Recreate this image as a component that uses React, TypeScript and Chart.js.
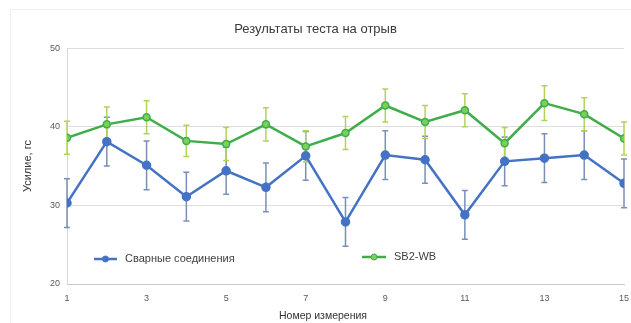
import React, { useEffect, useRef } from "react";
import { Chart, registerables } from "chart.js";

Chart.register(...registerables);

const chartTitle = "Результаты теста на отрыв";
const xAxisTitle = "Номер измерения";
const yAxisTitle = "Усилие, гс";

const measurements = [1, 2, 3, 4, 5, 6, 7, 8, 9, 10, 11, 12, 13, 14, 15];

const weldLabel = "Сварные соединения";
const weldValues = [30.3, 38.1, 35.1, 31.1, 34.4, 32.3, 36.3, 27.9, 36.4, 35.8, 28.8, 35.6, 36.0, 36.4, 32.8];
const weldErrors = [3.1, 3.1, 3.1, 3.1, 3.0, 3.1, 3.1, 3.1, 3.1, 3.0, 3.1, 3.1, 3.1, 3.1, 3.1];

const sb2Label = "SB2-WB";
const sb2Values = [38.6, 40.3, 41.2, 38.2, 37.8, 40.3, 37.5, 39.2, 42.7, 40.6, 42.1, 37.9, 43.0, 41.6, 38.5];
const sb2Errors = [2.1, 2.2, 2.1, 2.0, 2.1, 2.1, 2.0, 2.1, 2.1, 2.1, 2.1, 2.0, 2.2, 2.1, 2.1];

const yMin = 20;
const yMax = 50;
const yStep = 10;
const xMin = 1;
const xMax = 15;
const xStep = 2;

const FONT = "'Liberation Sans', Arial, sans-serif";

const BLUE = "#4472c4";
const BLUE_ERR = "#7a8fb8";
const GREEN = "#3fae4a";
const GREEN_FILL = "#7ccf5c";
const GREEN_ERR = "#b2d35a";

const errorBarsPlugin = {
  id: "errorBars",
  beforeDatasetsDraw(chart: any) {
    const ctx = chart.ctx;
    const yScale = chart.scales.y;
    chart.data.datasets.forEach((ds: any, di: number) => {
      const meta = chart.getDatasetMeta(di);
      const errs: number[] = ds.errors || [];
      ctx.save();
      ctx.strokeStyle = ds.errorColor;
      ctx.lineWidth = 1.5;
      meta.data.forEach((pt: any, i: number) => {
        const v = ds.data[i].y;
        const e = errs[i];
        const x = pt.x;
        const yTop = yScale.getPixelForValue(v + e);
        const yBot = yScale.getPixelForValue(v - e);
        ctx.beginPath();
        ctx.moveTo(x, yTop);
        ctx.lineTo(x, yBot);
        ctx.moveTo(x - 3, yTop);
        ctx.lineTo(x + 3, yTop);
        ctx.moveTo(x - 3, yBot);
        ctx.lineTo(x + 3, yBot);
        ctx.stroke();
      });
      ctx.restore();
    });
  },
};

const decorPlugin = {
  id: "decor",
  beforeDraw(chart: any) {
    const ctx = chart.ctx;
    ctx.save();
    ctx.strokeStyle = "#efefef";
    ctx.lineWidth = 1;
    ctx.beginPath();
    ctx.moveTo(10.5, 323);
    ctx.lineTo(10.5, 9.5);
    ctx.lineTo(631, 9.5);
    ctx.stroke();
    ctx.restore();
  },
  afterDraw(chart: any) {
    const ctx = chart.ctx;
    ctx.save();
    ctx.fillStyle = "#333333";
    ctx.font = `10.5px ${FONT}`;
    ctx.textAlign = "center";
    ctx.textBaseline = "middle";
    ctx.fillText(xAxisTitle, 323, 316);
    const items = [
      { label: weldLabel, color: BLUE, fill: BLUE, x1: 94, x2: 117, ty: 259 },
      { label: sb2Label, color: GREEN, fill: GREEN_FILL, x1: 362, x2: 386, ty: 257 },
    ];
    items.forEach((it) => {
      ctx.strokeStyle = it.color;
      ctx.lineWidth = 2.5;
      ctx.beginPath();
      ctx.moveTo(it.x1, it.ty);
      ctx.lineTo(it.x2, it.ty);
      ctx.stroke();
      ctx.beginPath();
      ctx.arc((it.x1 + it.x2) / 2, it.ty, 3, 0, Math.PI * 2);
      ctx.fillStyle = it.fill;
      ctx.fill();
      ctx.lineWidth = 1;
      ctx.strokeStyle = it.color;
      ctx.stroke();
      ctx.fillStyle = "#404040";
      ctx.font = `11px ${FONT}`;
      ctx.textAlign = "left";
      ctx.textBaseline = "middle";
      ctx.fillText(it.label, it.x2 + 8, it.ty);
    });
    ctx.restore();
  },
};

export default function App() {
  const ref = useRef<HTMLCanvasElement | null>(null);

  useEffect(() => {
    document.body.style.margin = "0";
    if (!ref.current) return;
    const toPoints = (vals: number[]) => vals.map((v, i) => ({ x: measurements[i], y: v }));
    const chart = new Chart(ref.current, {
      type: "line",
      data: {
        datasets: [
          {
            label: weldLabel,
            data: toPoints(weldValues),
            borderColor: BLUE,
            backgroundColor: BLUE,
            pointBackgroundColor: BLUE,
            pointBorderColor: BLUE,
            pointRadius: 3.5,
            borderWidth: 2.5,
            tension: 0,
            order: 2,
            errors: weldErrors,
            errorColor: BLUE_ERR,
          } as any,
          {
            label: sb2Label,
            data: toPoints(sb2Values),
            borderColor: GREEN,
            backgroundColor: GREEN_FILL,
            pointBackgroundColor: GREEN_FILL,
            pointBorderColor: GREEN,
            pointBorderWidth: 1.5,
            pointRadius: 3.5,
            borderWidth: 2.5,
            tension: 0,
            order: 1,
            errors: sb2Errors,
            errorColor: GREEN_ERR,
          } as any,
        ],
      },
      options: {
        animation: false,
        responsive: false,
        maintainAspectRatio: false,
        layout: { padding: { left: 0, right: 0, top: 0, bottom: 0 } },
        plugins: {
          legend: { display: false },
          tooltip: { enabled: false },
          title: {
            display: true,
            text: chartTitle,
            color: "#3a3a3a",
            font: { family: FONT, size: 13, weight: "normal" },
            padding: { top: 21.5, bottom: 11 },
          },
        },
        scales: {
          x: {
            type: "linear",
            min: xMin,
            max: xMax,
            grid: { display: false, drawTicks: false },
            border: { display: true, color: "#c8c8c8", width: 1 },
            ticks: {
              stepSize: xStep,
              color: "#595959",
              font: { family: FONT, size: 9 },
              padding: 9,
              maxRotation: 0,
            },
            afterFit(scale: any) {
              scale.height = 39;
              scale.paddingRight = 7;
            },
          },
          y: {
            min: yMin,
            max: yMax,
            grid: { color: "#dedede", drawTicks: false, lineWidth: 1 },
            border: { display: true, color: "#d6d6d6", width: 1 },
            ticks: {
              stepSize: yStep,
              color: "#595959",
              font: { family: FONT, size: 9 },
              padding: 7,
            },
            title: {
              display: true,
              text: yAxisTitle,
              color: "#333333",
              font: { family: FONT, size: 11 },
              padding: { top: 21.4, bottom: 0 },
            },
            afterFit(scale: any) {
              scale.width = 67;
            },
          },
        },
      } as any,
      plugins: [errorBarsPlugin, decorPlugin],
    });
    return () => chart.destroy();
  }, []);

  return (
    <div style={{ width: 631, height: 323, position: "relative", background: "#fff" }}>
      <canvas ref={ref} width={631} height={323} style={{ display: "block", width: 631, height: 323 }} />
    </div>
  );
}
